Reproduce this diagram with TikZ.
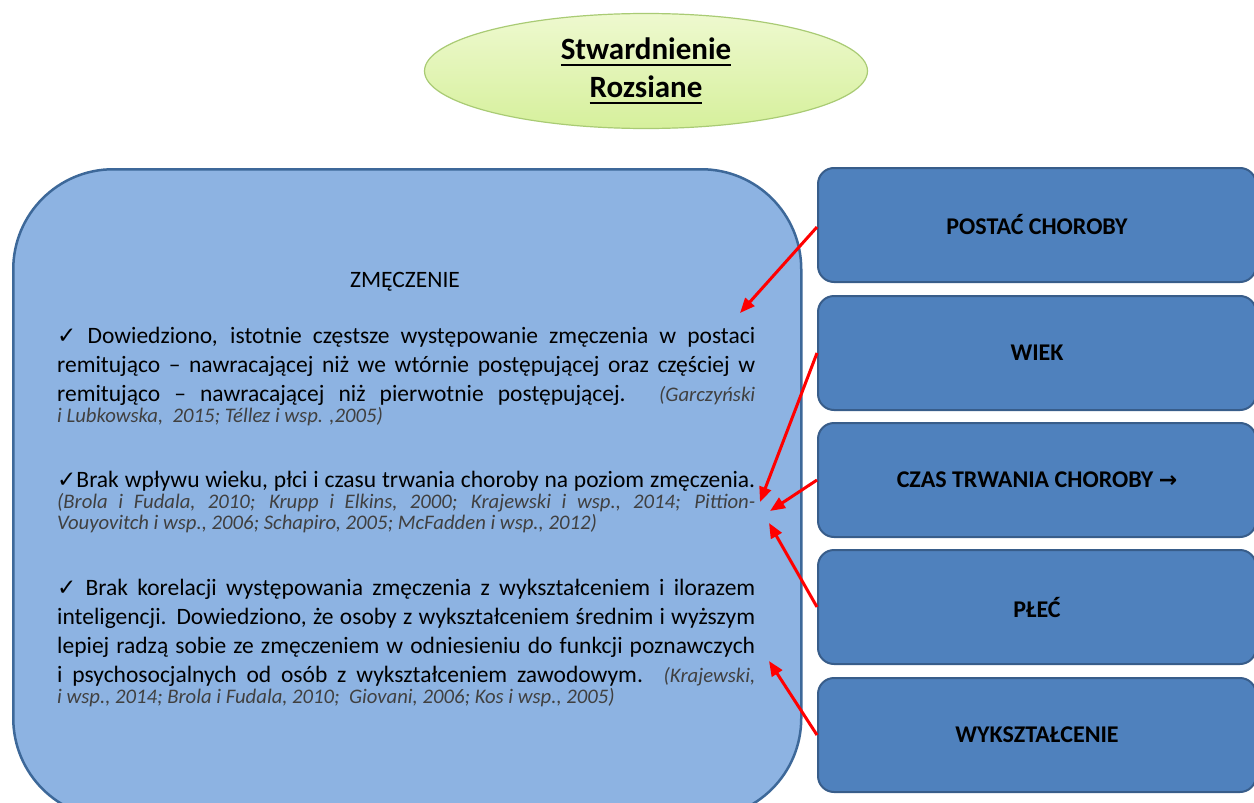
\documentclass[tikz,border=0pt]{standalone}
\usepackage{fontspec}
\setmainfont{Carlito}
\newfontfamily\symf{DejaVu Sans}
\usetikzlibrary{shapes.geometric,arrows.meta}

\definecolor{bigfill}{HTML}{8DB3E2}
\definecolor{bigline}{HTML}{3D6899}
\definecolor{boxfill}{HTML}{4F81BD}
\definecolor{boxline}{HTML}{385D8A}
\definecolor{elltop}{HTML}{EEF9CF}
\definecolor{ellbot}{HTML}{D6F09C}
\definecolor{ellline}{HTML}{A9CB74}
\definecolor{citgray}{HTML}{404040}
\definecolor{arrred}{HTML}{FF0000}

\newcommand\mainsz{\fontsize{23.5}{29}\selectfont}
\newcommand\citsz{\fontsize{20.7}{21}\selectfont\itshape\color{citgray}}
\newcommand\jl[1]{\hbox to 698pt{#1}}
\newcommand\rl[1]{\hbox{#1}}
\newcommand\chk{{\symf\fontsize{23}{23}\selectfont ✓}}
\newcommand\ct[1]{{\citsz #1}}
\newcommand\myul[1]{\leavevmode\vtop{\hbox{#1}\kern4pt\hrule height 2pt}}

\begin{document}
\begin{tikzpicture}[x=1pt,y=-1pt,
  bigbox/.style={draw=bigline, line width=2.5pt, fill=bigfill, rounded corners=100pt,
    minimum width=788pt, minimum height=649pt, anchor=north west, inner sep=0pt},
  factor/.style={draw=boxline, line width=2pt, fill=boxfill, rounded corners=16pt,
    minimum width=438pt, minimum height=114pt, inner sep=0pt,
    font=\bfseries\fontsize{24}{28}\selectfont, text=black},
  para/.style={anchor=base west, inner sep=0pt, text=black},
  redarrow/.style={draw=arrred, line width=3pt, -{Triangle[length=15pt,width=12pt]}},
  titleell/.style={ellipse, draw=ellline, line width=1.2pt, top color=elltop, bottom color=ellbot,
    minimum width=443pt, minimum height=115pt, inner sep=0pt, align=center,
    font=\bfseries\fontsize{31}{38}\selectfont}
]
\useasboundingbox (0,0) rectangle (1254,803);
\clip (0,0) rectangle (1254,803);
\fill[white] (0,0) rectangle (1254,803);

% title
\node[titleell] (title) at (646,71) {\myul{Stwardnienie}\\\myul{Rozsiane}};

% main box
\node[bigbox] (main) at (12,168) {};
\node[anchor=base, inner sep=0pt, font=\fontsize{23.5}{28}\selectfont] (zm) at (405,287) {ZMĘCZENIE};

\node[para] (p1) at (57,343) {\vtop{\mainsz\baselineskip=29pt\lineskiplimit=-10pt
\jl{\chk\ Dowiedziono, istotnie częstsze występowanie zmęczenia w postaci}
\jl{remitująco – nawracającej niż we wtórnie postępującej oraz częściej w}
\jl{remitująco – nawracającej niż pierwotnie postępującej. \ct{(Garczyński}}
\baselineskip=21pt
\rl{\ct{i Lubkowska,\ \ 2015; Téllez i wsp. ,2005)}}}};

\node[para] (p2) at (57,487) {\vtop{\mainsz\baselineskip=21pt\lineskiplimit=-10pt
\jl{\chk Brak wpływu wieku, płci i czasu trwania choroby na poziom zmęczenia.}
\jl{\ct{(Brola i Fudala, 2010; Krupp i Elkins, 2000; Krajewski i wsp., 2014; Pittion-}}
\rl{\ct{Vouyovitch i wsp., 2006; Schapiro, 2005; McFadden i wsp., 2012)}}}};

\node[para] (p3) at (57,595) {\vtop{\mainsz\baselineskip=29pt\lineskiplimit=-10pt
\jl{\chk\ Brak korelacji występowania zmęczenia z wykształceniem i ilorazem}
\jl{inteligencji. Dowiedziono, że osoby z wykształceniem średnim i wyższym}
\jl{lepiej radzą sobie ze zmęczeniem w odniesieniu do funkcji poznawczych}
\jl{i psychosocjalnych od osób z wykształceniem zawodowym. \ct{(Krajewski,}}
\baselineskip=21pt
\rl{\ct{i wsp., 2014; Brola i Fudala, 2010;\ \ Giovani, 2006; Kos i wsp., 2005)}}}};

% factor boxes
\node[factor] (f1) at (1037,225) {POSTAĆ CHOROBY};
\node[factor] (f2) at (1037,353) {WIEK};
\node[factor] (f3) at (1037,480) {CZAS TRWANIA CHOROBY {\symf\bfseries\fontsize{22}{24}\selectfont →}};
\node[factor] (f4) at (1037,607) {PŁEĆ};
\node[factor] (f5) at (1037,735) {WYKSZTAŁCENIE};

% arrow targets
\coordinate (t1) at (740,313);
\coordinate (t2) at (760,502);
\coordinate (t3) at (770,511);
\coordinate (t4) at (769,523);
\coordinate (t5) at (769,661);

\draw[redarrow] ([yshift=-2pt]f1.west) -- (t1);
\draw[redarrow] (f2.west) -- (t2);
\draw[redarrow] (f3.west) -- (t3);
\draw[redarrow] (f4.west) -- (t4);
\draw[redarrow] (f5.west) -- (t5);
\end{tikzpicture}
\end{document}
